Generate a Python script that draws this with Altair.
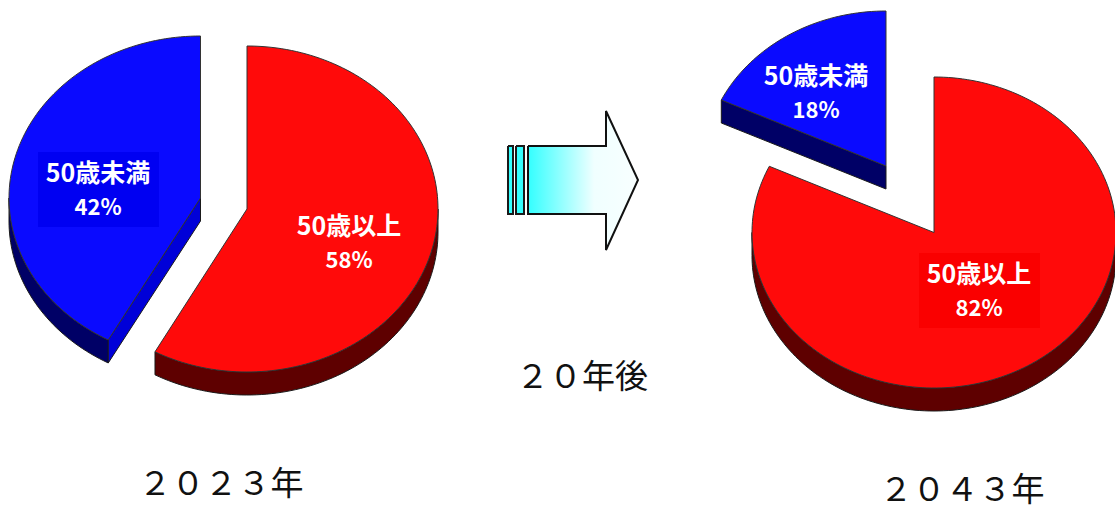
import altair as alt
import numpy as np
import pandas as pd

# Age split of the workforce, in percent
groups = ["50歳以上", "50歳未満"]
shares_2023 = [58, 42]
shares_2043 = [82, 18]
captions = ["２０２３年", "２０４３年", "２０年後"]

W, H = 1115, 510
DEPTH = 23
FONT = "Noto Sans CJK JP"

RED, RED_RIM = "#ff0a0a", "#5e0000"
BLUE, BLUE_RIM, BLUE_CUT = "#0a0aff", "#000066", "#0000d8"

x_scale = alt.Scale(domain=[0, W], nice=False, zero=False)
y_scale = alt.Scale(domain=[H, 0], nice=False, zero=False)


def ellipse(c, r, a0, a1, dy=0):
    """Points on an elliptical arc; angles in degrees, clockwise from 12 o'clock."""
    n = max(2, int(abs(a1 - a0) / 1.5) + 1)
    t = np.radians(np.linspace(a0, a1, n))
    return list(zip(c[0] + r[0] * np.sin(t), c[1] - r[1] * np.cos(t) + dy))


def polygon(points, fill, stroke="#1a1a1a", width=1.0):
    points = list(points) + [points[0]]
    df = pd.DataFrame(points, columns=["x", "y"])
    df["i"] = range(len(df))
    return (
        alt.Chart(df)
        .mark_line(fill=fill, stroke=stroke, strokeWidth=width, strokeJoin="miter", clip=False)
        .encode(
            x=alt.X("x:Q", scale=x_scale, axis=None),
            y=alt.Y("y:Q", scale=y_scale, axis=None),
            order="i:Q",
        )
    )


def rect(x0, y0, x1, y1, fill, stroke=None, width=0):
    return polygon([(x0, y0), (x1, y0), (x1, y1), (x0, y1)], fill,
                   stroke or fill, width)


def rim(c, r, a0, a1, fill):
    """Outer wall of a slice, between the visible arc and the same arc lowered by DEPTH."""
    top = ellipse(c, r, a0, a1)
    bottom = ellipse(c, r, a1, a0, DEPTH)
    return polygon(top + bottom, fill)


def slice_top(c, r, a0, a1, fill):
    return polygon([c] + ellipse(c, r, a0, a1), fill, "#333333")


def text(x, y, label, size, color, weight="normal", font=FONT):
    df = pd.DataFrame({"x": [x], "y": [y], "t": [label]})
    return (
        alt.Chart(df)
        .mark_text(font=font, fontSize=size, fontWeight=weight, color=color,
                   align="center", baseline="middle")
        .encode(
            x=alt.X("x:Q", scale=x_scale, axis=None),
            y=alt.Y("y:Q", scale=y_scale, axis=None),
            text="t:N",
        )
    )


def pie_label(x, y, group, value):
    return [text(x, y + 1, group, 25, "white", "bold"),
            text(x, y + 35, f"{value}%", 22, "white", "bold")]


layers = []

# 2023: the red slice starts at 12 o'clock, the blue one is pulled to the upper left
red_end = shares_2023[0] * 3.6
c_red, r_red = (247, 209), (191, 163)
c_blue, r_blue = (200.5, 198), (191.5, 162)
blue_tip = ellipse(c_blue, r_blue, red_end, red_end)[0]
layers += [
    rim(c_red, r_red, 90, red_end, RED_RIM),
    slice_top(c_red, r_red, 0, red_end, RED),
    rim(c_blue, r_blue, red_end, 270, BLUE_RIM),
    polygon([c_blue, blue_tip, (blue_tip[0], blue_tip[1] + DEPTH),
             (c_blue[0], c_blue[1] + DEPTH)], BLUE_CUT),
    slice_top(c_blue, r_blue, red_end, 360, BLUE),
    rect(38, 152, 159, 227, "#0000f2"),
]
layers += pie_label(98, 173, groups[1], shares_2023[1])
layers += pie_label(349, 226, groups[0], shares_2023[0])

# 2043: the same construction with the later shares
red_end = shares_2043[0] * 3.6
c_red, r_red = (934, 232.5), (182, 155.5)
c_blue, r_blue = (886, 166), (182, 155)
blue_tip = ellipse(c_blue, r_blue, red_end, red_end)[0]
layers += [
    rim(c_red, r_red, 90, 270, RED_RIM),
    slice_top(c_red, r_red, 0, red_end, RED),
    polygon([c_blue, blue_tip, (blue_tip[0], blue_tip[1] + DEPTH),
             (c_blue[0], c_blue[1] + DEPTH)], BLUE_RIM),
    slice_top(c_blue, r_blue, red_end, 360, BLUE),
    rect(919, 253, 1040, 328, "#fa0000"),
]
layers += pie_label(816, 76, groups[1], shares_2043[1])
layers += pie_label(979, 274, groups[0], shares_2043[0])

# Block arrow between the two pies
gradient = alt.LinearGradient(
    gradient="linear", x1=0, y1=0, x2=1, y2=0,
    stops=[alt.GradientStop(color="#33ffff", offset=0),
           alt.GradientStop(color="#f0ffff", offset=0.6),
           alt.GradientStop(color="#f8ffff", offset=1)],
)
layers += [
    rect(508, 146, 513, 214, "#33ffff", "#1a1a1a", 2),
    rect(516, 146, 524, 214, "#33ffff", "#1a1a1a", 2),
    polygon([(528, 146), (606, 146), (606, 111), (638, 180), (606, 250),
             (606, 214), (528, 214)], gradient, "#111111", 2),
]

# Captions
layers += [
    text(221, 485, captions[0], 33, "#111111"),
    text(962, 491, captions[1], 33, "#111111"),
    text(582, 378, captions[2], 33, "#111111"),
]

chart = (
    alt.layer(*layers)
    .properties(width=W, height=H, padding=0, background="white",
                autosize=alt.AutoSizeParams(type="none"))
    .configure_view(stroke=None)
)

chart.save("out.html", embed_options={"renderer": "svg", "actions": False})
